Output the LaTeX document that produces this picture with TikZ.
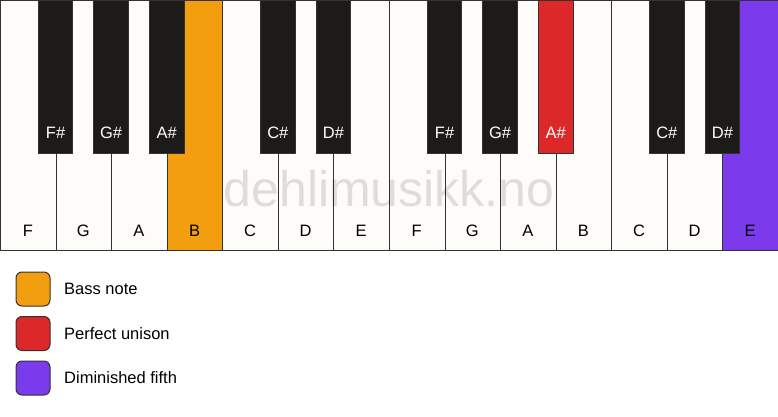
\documentclass[tikz,border=0pt]{standalone}
\usepackage{fontspec}
\setmainfont{Liberation Sans}
\definecolor{keywhite}{HTML}{FDFCF9}
\definecolor{keyblack}{HTML}{1C1B19}
\definecolor{keyedge}{HTML}{333333}
\definecolor{bassnote}{HTML}{F39E0F}
\definecolor{unison}{HTML}{DC2828}
\definecolor{dimfifth}{HTML}{7C3AED}
\tikzset{
whitekey/.style={draw=keyedge, line width=1pt, minimum width=55.57pt, minimum height=250pt, anchor=north west, inner sep=0pt},
blackkey/.style={draw=keyedge, line width=1pt, minimum width=34.7pt, minimum height=153.3pt, anchor=north, inner sep=0pt},
legendbox/.style={draw=keyedge, line width=1pt, rounded corners=6pt, minimum size=34pt, inner sep=0pt},
}
\begin{document}
\begin{tikzpicture}[x=1pt, y=-1pt, font=\fontsize{16.5}{19}\selectfont, line join=round]
\useasboundingbox[fill=white] (0,0) rectangle (778,417);
%white keys
\foreach \i/\n/\c in {0/F/keywhite, 1/G/keywhite, 2/A/keywhite, 3/B/bassnote, 4/C/keywhite, 5/D/keywhite, 6/E/keywhite,
7/F/keywhite, 8/G/keywhite, 9/A/keywhite, 10/B/keywhite, 11/C/keywhite, 12/D/keywhite, 13/E/dimfifth}
{
\node[whitekey, fill=\c] (w\i) at (\i*55.57,0) {};
\node[text=black] (wl\i) at (\i*55.57+27.79,230.5) {\n};
}
%black keys
\foreach \i/\n/\c in {1/F/keyblack, 2/G/keyblack, 3/A/keyblack, 5/C/keyblack, 6/D/keyblack,
8/F/keyblack, 9/G/keyblack, 10/A/unison, 12/C/keyblack, 13/D/keyblack}
{
\node[blackkey, fill=\c] (b\i) at (\i*55.57,0) {};
\node[text=white] (bl\i) at (\i*55.57,133.3) {\n\#};
}
%watermark
\node[anchor=base, font=\fontsize{50}{52}\selectfont, text=black, text opacity=0.12] (mark) at (389,206.5) {dehlimusikk.no};
%legend
\foreach \k/\c/\t in {1/bassnote/Bass note, 2/unison/Perfect unison, 3/dimfifth/Diminished fifth}
{
\node[legendbox, fill=\c] (lg\k) at (33,244.5+\k*44.5) {};
\node[anchor=west, inner sep=0pt] (lt\k) at (64,244.5+\k*44.5) {\t};
}
\end{tikzpicture}
\end{document}
